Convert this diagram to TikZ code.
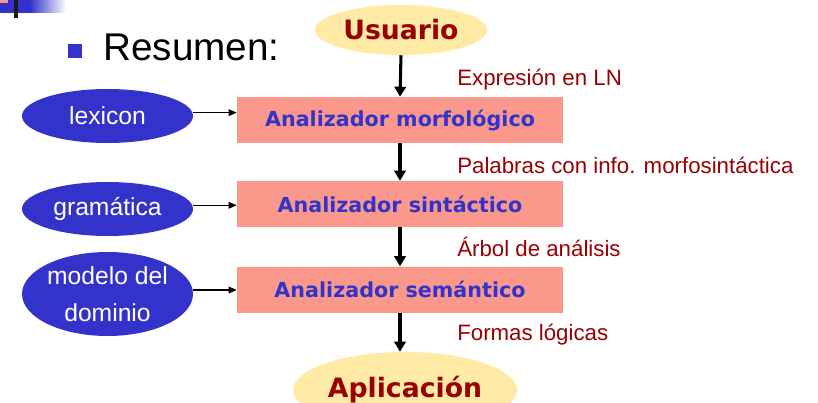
\documentclass[tikz,border=0pt]{standalone}
\usepackage{fontspec}
\setmainfont{Liberation Sans}
\newfontfamily\dvfont{DejaVu Sans}
\usetikzlibrary{shapes.geometric,arrows.meta}
\definecolor{ylw}{HTML}{FFEAA6}
\definecolor{salmon}{HTML}{FA998B}
\definecolor{dred}{HTML}{990000}
\definecolor{dblue}{HTML}{3333CC}
\begin{document}
\begin{tikzpicture}[x=0.75pt,y=-0.75pt,
  endpoint/.style={ellipse, fill=ylw, inner sep=0pt, text=dred,
    font=\dvfont\bfseries\fontsize{20}{24}\selectfont},
  stage/.style={rectangle, fill=salmon, minimum width=244.5pt, minimum height=34.5pt,
    inner sep=0pt, text=dblue, font=\dvfont\bfseries\fontsize{15.5}{18}\selectfont},
  resource/.style={ellipse, fill=dblue, minimum width=128.25pt, inner sep=0pt,
    text=white, align=center, font=\fontsize{18.5}{27.75}\selectfont},
  flowlabel/.style={anchor=base west, inner sep=0pt, text=dred,
    font=\fontsize{16.7}{20}\selectfont},
  mainarrow/.style={line width=2.3pt, -{Triangle[width=8.5pt,length=7.5pt]}},
  sidearrow/.style={line width=0.8pt, -{Triangle[width=5pt,length=6pt]}}]
\clip (0,0) rectangle (818,403);
\fill[white] (0,0) rectangle (818,403);
% top-left decoration
\fill[dblue] (0,0) rectangle (30,13);
\shade[left color=dblue, right color=white] (30,0) rectangle (66,13);
\fill[salmon] (0,0) rectangle (8,3);
\fill[black!90] (14,0) rectangle (18,18);
% bullet and title
\fill[dblue] (68,44) rectangle (82,58);
\node[anchor=base west, inner sep=0pt, font=\fontsize{29}{34}\selectfont] (title) at (103,61) {Resumen:};
% main flow
\node[endpoint, minimum width=129pt, minimum height=37.5pt] (usr) at (401,30) {Usuario};
\node[stage] (m1) at (400,120) {Analizador morfológico};
\node[stage] (m2) at (400,204) {Analizador sintáctico};
\node[stage] (m3) at (400,289.5) {Analizador semántico};
\node[endpoint, minimum width=168pt, minimum height=57pt] (app) at (405,390) {Aplicación};
% resources
\node[resource, minimum height=40.5pt] (lex) at (107.5,116) {lexicon};
\node[resource, minimum height=40.5pt] (gram) at (107.5,209) {gramática};
\node[resource, minimum height=63pt] (dom) at (107.5,294) {modelo del\\dominio};
% arrows
\draw[mainarrow] (usr.south) -- (m1.north);
\draw[mainarrow] (m1.south) -- (m2.north);
\draw[mainarrow] (m2.south) -- (m3.north);
\draw[mainarrow] (m3.south) -- (m3.south |- app.north);
\draw[sidearrow] ([yshift=2.5pt]lex.east) -- ([yshift=2.5pt]lex.east -| m1.west);
\draw[sidearrow] ([yshift=2.8pt]gram.east) -- ([yshift=2.8pt]gram.east -| m2.west);
\draw[sidearrow] ([yshift=3pt]dom.east) -- ([yshift=3pt]dom.east -| m3.west);
% flow labels
\node[flowlabel] (l1) at (457,86) {Expresión en LN};
\node[flowlabel] (l2) at (457,173) {Palabras con info. morfosintáctica};
\node[flowlabel] (l3) at (457,256) {Árbol de análisis};
\node[flowlabel] (l4) at (457,340) {Formas lógicas};
\end{tikzpicture}
\end{document}
